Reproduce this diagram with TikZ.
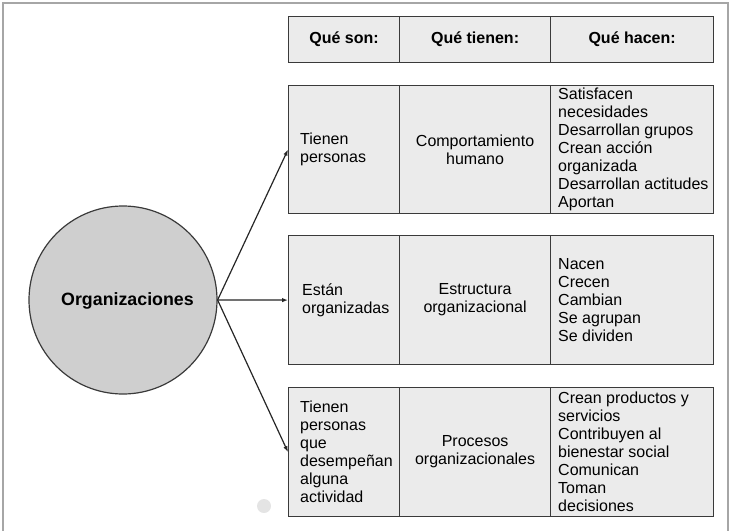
\documentclass[tikz,border=0pt]{standalone}
\usepackage{fontspec}
\setmainfont{Liberation Sans}
\usetikzlibrary{arrows.meta}
\definecolor{cellfill}{HTML}{EBEBEB}
\definecolor{cellline}{HTML}{3A3A3A}
\definecolor{orgfill}{HTML}{CFCFCF}
\definecolor{frameline}{HTML}{A6A6A6}
\definecolor{spot}{HTML}{E4E4E4}
\begin{document}
\begin{tikzpicture}[x=1pt,y=-1pt,
  font=\fontsize{16}{18}\selectfont,
  cell/.style={draw=cellline, fill=cellfill, line width=1.2pt,
    inner sep=0pt, anchor=north west, align=center},
  head/.style={cell, font=\fontsize{16}{18}\selectfont\bfseries},
  celltext/.style={anchor=west, align=left, inner sep=0pt},
  link/.style={draw=black!85, line width=1.2pt,
    -{Latex[length=6pt,width=4.5pt]}}]
\useasboundingbox (0,0) rectangle (730,530);

% outer frame
\draw[frameline, line width=1.2pt] (3,531) -- (3,3) -- (728,3) -- (728,531);

% header row
\node[head, minimum width=111pt, minimum height=46pt] (hA) at (288,16) {Qué son:};
\node[head, minimum width=151pt, minimum height=46pt] (hB) at (399,16) {Qué tienen:};
\node[head, minimum width=163pt, minimum height=46pt] (hC) at (550,16) {Qué hacen:};

% row 1
\node[cell, minimum width=111pt, minimum height=128pt] (r1a) at (288,85) {};
\node[cell, minimum width=151pt, minimum height=128pt] (r1b) at (399,85) {Comportamiento\\humano};
\node[cell, minimum width=163pt, minimum height=128pt] (r1c) at (550,85) {};
\node[celltext] (t1a) at ([xshift=12pt]r1a.west) {Tienen\\personas};
\node[celltext] (t1c) at ([xshift=8pt]r1c.west) {Satisfacen\\necesidades\\Desarrollan grupos\\Crean acción\\organizada\\Desarrollan actitudes\\Aportan};

% row 2
\node[cell, minimum width=111pt, minimum height=129pt] (r2a) at (288,235) {};
\node[cell, minimum width=151pt, minimum height=129pt] (r2b) at (399,235) {Estructura\\organizacional};
\node[cell, minimum width=163pt, minimum height=129pt] (r2c) at (550,235) {};
\node[celltext] (t2a) at ([xshift=14pt]r2a.west) {Están\\organizadas};
\node[celltext] (t2c) at ([xshift=8pt]r2c.west) {Nacen\\Crecen\\Cambian\\Se agrupan\\Se dividen};

% row 3
\node[cell, minimum width=111pt, minimum height=129pt] (r3a) at (288,387) {};
\node[cell, minimum width=151pt, minimum height=129pt] (r3b) at (399,387) {Procesos\\organizacionales};
\node[cell, minimum width=163pt, minimum height=129pt] (r3c) at (550,387) {};
\node[celltext] (t3a) at ([xshift=12pt]r3a.west) {Tienen\\personas\\que\\desempeñan\\alguna\\actividad};
\node[celltext] (t3c) at ([xshift=8pt]r3c.west) {Crean productos y\\servicios\\Contribuyen al\\bienestar social\\Comunican\\Toman\\decisiones};

% central circle and its label
\node[circle, draw=cellline, fill=orgfill, line width=1.2pt, minimum size=188pt,
  inner sep=0pt] (org) at (123,300) {};
\node[font=\fontsize{17.8}{20}\selectfont\bfseries, inner sep=0pt] (orgtext)
  at ([xshift=4.5pt,yshift=-1pt]org.center) {Organizaciones};

% connectors
\draw[link] (org.east) -- (r1a.west);
\draw[link] (org.east) -- (r2a.west);
\draw[link] (org.east) -- (r3a.west);

% faint spot near the bottom
\fill[spot] (264,506) circle (7pt);
\end{tikzpicture}
\end{document}
